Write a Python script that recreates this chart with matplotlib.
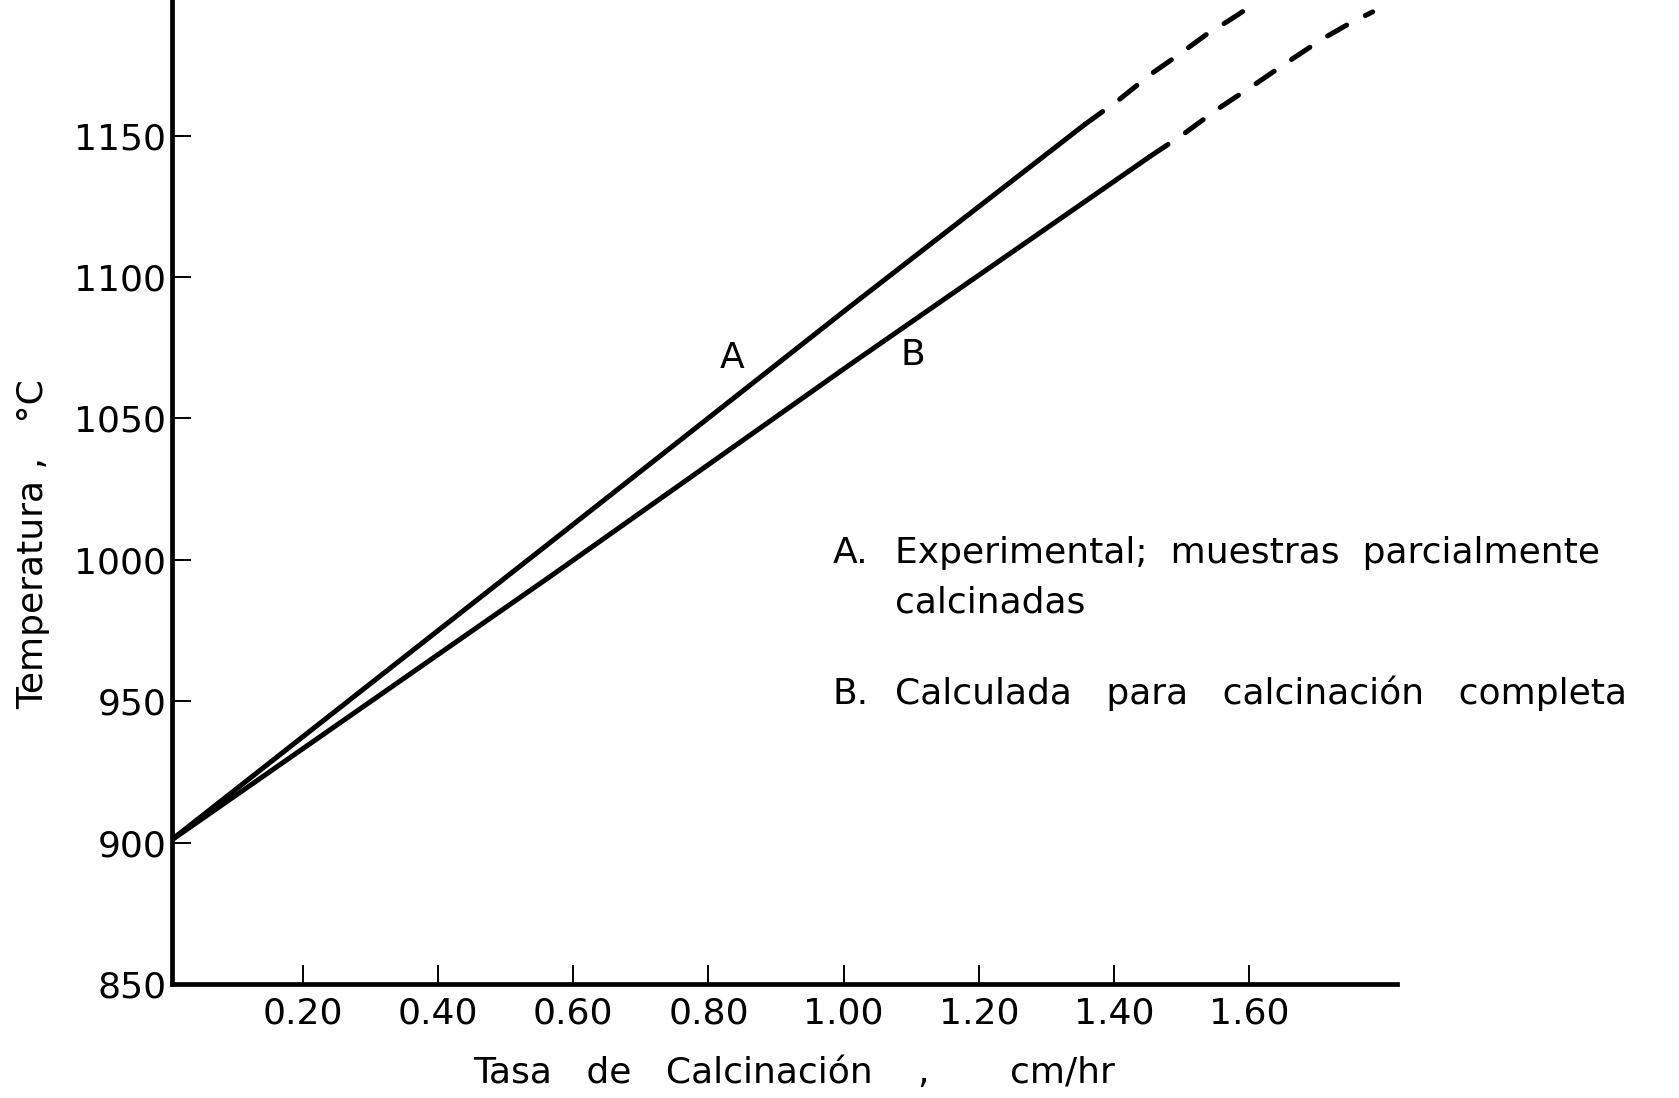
import matplotlib
matplotlib.use("Agg")
import matplotlib.pyplot as plt

# curve A: experimental (solid part, then dashed extrapolation)
a_x = [0.0, 0.565, 1.009, 1.357]
a_y = [900, 1006, 1089.5, 1154]
a_dash_x = [1.357, 1.409, 1.456, 1.498, 1.538, 1.572, 1.604]
a_dash_y = [1154, 1163, 1172, 1179, 1186, 1191, 1196]

# curve B: calculated for complete calcination
b_x = [0.0, 0.565, 1.009, 1.453]
b_y = [900, 994, 1069, 1142.6]
b_dash_x = [1.453, 1.502, 1.554, 1.612, 1.658, 1.709, 1.751, 1.783]
b_dash_y = [1142.6, 1150.4, 1159.5, 1168.7, 1176.2, 1184.3, 1190, 1193.8]

x_ticks = [0.2, 0.4, 0.6, 0.8, 1.0, 1.2, 1.4, 1.6]
x_tick_labels = ["0.20", "0.40", "0.60", "0.80", "1.00", "1.20", "1.40", "1.60"]
y_ticks = [850, 900, 950, 1000, 1050, 1100, 1150]

plt.rcParams["font.family"] = ["DejaVu Sans"]
fs = 26

fig = plt.figure(figsize=(16.79, 10.98), dpi=100)
ax = fig.add_axes([172 / 1679, 114 / 1098, 1225 / 1679, 984 / 1098])

lw = 3.6
ax.plot(a_x, a_y, color="black", lw=lw, solid_capstyle="round")
ax.plot(a_dash_x, a_dash_y, color="black", lw=lw, dashes=(4.4, 4.2),
        dash_capstyle="round")
ax.plot(b_x, b_y, color="black", lw=lw, solid_capstyle="round")
ax.plot(b_dash_x, b_dash_y, color="black", lw=lw, dashes=(4.4, 4.2),
        dash_capstyle="round")

ax.text(0.835, 1071.5, "A", fontsize=fs, ha="center", va="center")
ax.text(1.103, 1072.6, "B", fontsize=fs, ha="center", va="center")

# key text on the right
ax.text(0.984, 1002.5, "A.", fontsize=fs, ha="left", va="center")
ax.text(1.076, 1002.5, "Experimental;  muestras  parcialmente", fontsize=fs,
        ha="left", va="center")
ax.text(1.076, 984.9, "calcinadas", fontsize=fs, ha="left", va="center")
ax.text(0.984, 952.7, "B.", fontsize=fs, ha="left", va="center")
ax.text(1.076, 952.7, "Calculada   para   calcinación   completa", fontsize=fs,
        ha="left", va="center")

ax.set_xlim(0.006, 1.819)
ax.set_ylim(850, 1198)

ax.set_xticks(x_ticks)
ax.set_xticklabels(x_tick_labels)
ax.set_yticks(y_ticks)
ax.tick_params(axis="both", direction="in", length=13.5, width=1.4,
               labelsize=fs)
ax.tick_params(axis="x", pad=9)
ax.tick_params(axis="y", pad=4)

for side in ["top", "right"]:
    ax.spines[side].set_visible(False)
for side in ["left", "bottom"]:
    ax.spines[side].set_linewidth(3.4)

# x axis title, with the unit set well apart
base = 1 - 1083 / 1098
fig.text(473 / 1679, base, "Tasa   de   Calcinación", fontsize=fs,
         ha="left", va="baseline")
fig.text(923 / 1679, base, ",", fontsize=fs, ha="center", va="baseline")
fig.text(1010 / 1679, base, "cm/hr", fontsize=fs, ha="left", va="baseline")

fig.text(33 / 1679, 1 - 544 / 1098, "Temperatura ,   °C", fontsize=fs,
         rotation=90, ha="center", va="center")

plt.savefig("out.png", dpi=100)
